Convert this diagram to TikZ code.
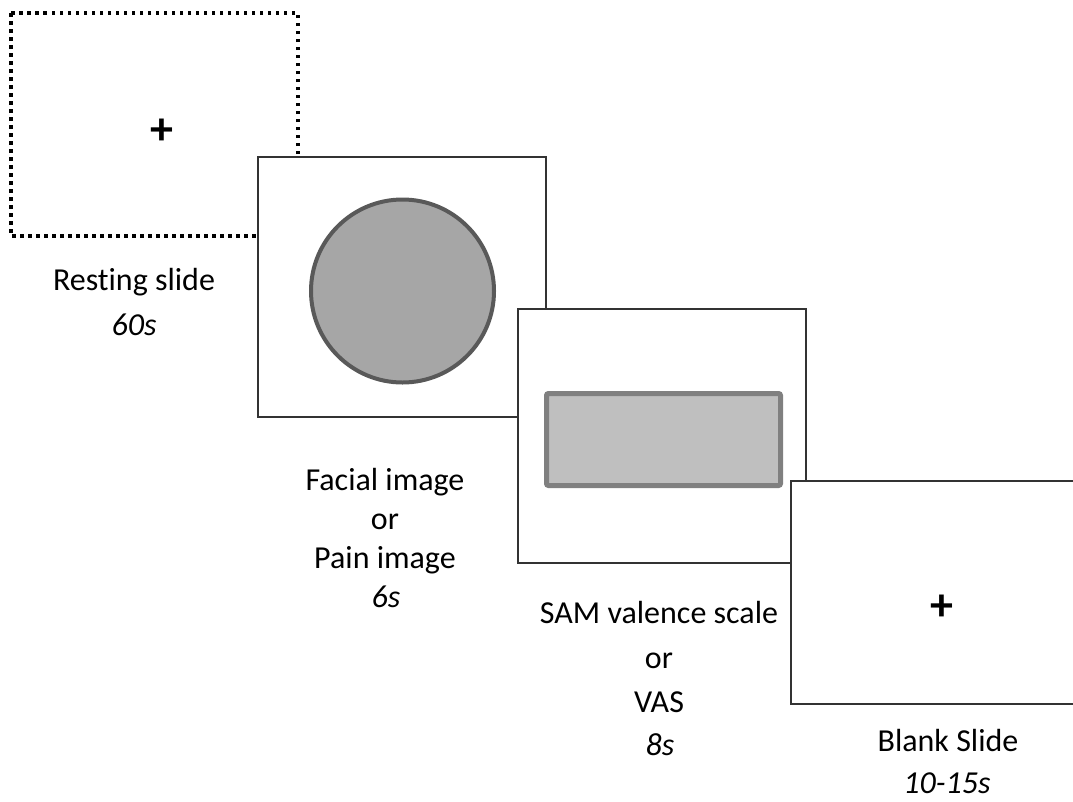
\documentclass[tikz,border=0pt]{standalone}
\usepackage{fontspec}
\setmainfont[Ligatures=NoCommon]{Carlito}
\begin{document}
\begin{tikzpicture}[x=1pt,y=-1pt,
  slide/.style={draw=black!80,line width=1.2pt,fill=white},
  dotslide/.style={draw=black,line width=3.5pt,dash pattern=on 3.5pt off 4.5pt,line cap=butt},
  lbl/.style={anchor=base,font=\fontsize{32}{40}\selectfont,inner sep=0pt},
  cross/.style={font=\fontsize{46}{46}\selectfont\bfseries,inner sep=0pt}]
\useasboundingbox (0,0) rectangle (1073,801);
% resting slide
\draw[dotslide] (11,13) rectangle (298,236);
\node[cross] (p1) at (162,132) {+};
% facial slide
\draw[slide] (258,157) rectangle (546,417);
\draw[draw=black!65,fill=black!35,line width=4pt] (402.5,291) circle[radius=91.5pt];
% SAM slide
\draw[slide] (518,309) rectangle (806,563);
\draw[draw=black!50,fill=black!25,line width=5pt,rounded corners=2pt] (546.5,393.5) rectangle (780.5,485.5);
% blank slide
\draw[slide] (791,481) rectangle (1080,704);
\node[cross] (p4) at (942,608) {+};
% labels
\node[lbl] (l1a) at (134,290) {Resting slide};
\node[lbl] (l1b) at (134,335) {\itshape 60s};
\node[lbl] (l2a) at (385,490) {Facial image};
\node[lbl] (l2b) at (385,529) {or};
\node[lbl] (l2c) at (385,568) {Pain image};
\node[lbl] (l2d) at (386,607) {\itshape 6s};
\node[lbl] (l3a) at (659,623) {SAM valence scale};
\node[lbl] (l3b) at (659,668) {or};
\node[lbl] (l3c) at (659,712) {VAS};
\node[lbl] (l3d) at (660,755) {\itshape 8s};
\node[lbl] (l4a) at (948,751) {Blank Slide};
\node[lbl] (l4b) at (947,793) {\itshape 10-15s};
\end{tikzpicture}
\end{document}
